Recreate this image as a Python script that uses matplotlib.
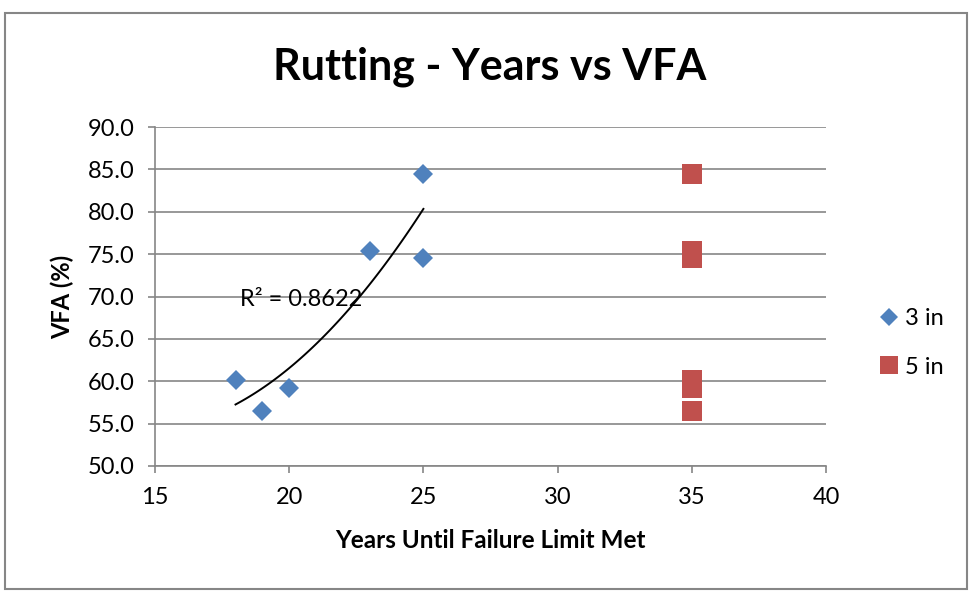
import numpy as np
import matplotlib
matplotlib.use("Agg")
import matplotlib.pyplot as plt
from matplotlib.patches import Rectangle

# ---- data ----
years_3in = [18, 19, 20, 23, 25, 25]
vfa_3in = [60.1, 56.5, 59.2, 75.4, 84.4, 74.5]
years_5in = [35, 35, 35, 35, 35, 35]
vfa_5in = [84.4, 75.4, 74.5, 60.1, 59.2, 56.5]
series_labels = ["3 in", "5 in"]
x_ticks = [15, 20, 25, 30, 35, 40]
y_ticks = [50.0, 55.0, 60.0, 65.0, 70.0, 75.0, 80.0, 85.0, 90.0]
r2_text = "R² = 0.8622"

BLUE = "#4F81BD"
RED = "#C0504D"
GRID = "#868686"

plt.rcParams['font.family'] = ['Lato', 'DejaVu Sans']

W, H = 972, 593
fig = plt.figure(figsize=(W / 100, H / 100), dpi=100)
L, R, T, B = 155, 826, 127, 466
ax = fig.add_axes([L / W, 1 - B / H, (R - L) / W, (B - T) / H])

ax.set_xlim(15, 40)
ax.set_ylim(50, 90)
ax.set_xticks(x_ticks)
ax.set_yticks(y_ticks)
ax.set_xticklabels([str(v) for v in x_ticks])
ax.set_yticklabels([f"{v:.1f}" for v in y_ticks])

ax.grid(axis='y', color=GRID, linewidth=1.2)
ax.set_axisbelow(True)
for s in ['top', 'right']:
    ax.spines[s].set_visible(False)
for s in ['left', 'bottom']:
    ax.spines[s].set_color(GRID)
    ax.spines[s].set_linewidth(1.2)
ax.tick_params(axis='both', colors=GRID, length=5, width=1.2, direction='out',
               labelcolor='black', labelsize=17)
ax.tick_params(axis='x', pad=10)
ax.tick_params(axis='y', pad=10)

# trendline (polynomial, order 2)
coef = np.polyfit(years_3in, vfa_3in, 2)
xt = np.linspace(min(years_3in), max(years_3in), 100)
ax.plot(xt, np.polyval(coef, xt), color='black', linewidth=1.4, zorder=2)

ax.plot(years_3in, vfa_3in, 'D', ms=10, color=BLUE, mew=0, label=series_labels[0], zorder=3)
ax.plot(years_5in, vfa_5in, 's', ms=14.4, color=RED, mew=0, label=series_labels[1], zorder=3)

ax.text(20.45, 69.7, r2_text, fontsize=17, ha='center', va='center')

fig.text(490 / W, 1 - 67 / H, "Rutting - Years vs VFA", fontsize=31, fontweight='bold',
         ha='center', va='center')
ax.set_xlabel("Years Until Failure Limit Met", fontsize=17.5, fontweight='bold')
ax.xaxis.set_label_coords(0.5, (B - 541) / (B - T), transform=ax.transAxes)
ax.xaxis.label.set_va('center')
ax.set_ylabel("VFA (%)", fontsize=17, fontweight='bold')
ax.yaxis.set_label_coords((62 - L) / (R - L), 0.5)
ax.yaxis.label.set_va('center')

h, l = ax.get_legend_handles_labels()
leg = fig.legend(h, l, loc='center left', bbox_to_anchor=(858 / W, 1 - 343 / H),
                 frameon=False, fontsize=17, handlelength=0.8, handletextpad=0.3,
                 labelspacing=1.15, markerscale=0.9)

fig.patches.append(Rectangle((5 / W, 1 - 589 / H), (967 - 5) / W, (589 - 13) / H,
                             transform=fig.transFigure, fill=False,
                             edgecolor=GRID, linewidth=1.5))

fig.savefig("out.png", dpi=100, facecolor='white')
